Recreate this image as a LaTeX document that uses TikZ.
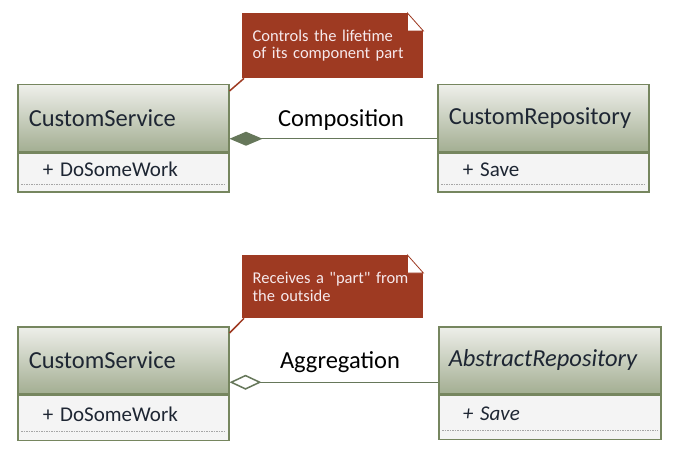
\documentclass[tikz,border=0pt]{standalone}
\usepackage{fontspec}
\setmainfont{Carlito}[Ligatures=TeXOff]
\usepackage{xcolor}
\usepackage{tikz}
\usetikzlibrary{arrows.meta}

\definecolor{headtop}{HTML}{EEEFEA}
\definecolor{headbot}{HTML}{A3AE92}
\definecolor{classline}{HTML}{76865F}
\definecolor{bodyfill}{HTML}{F4F4F4}
\definecolor{notered}{HTML}{9E3A22}
\definecolor{notetext}{HTML}{F6E9EC}
\definecolor{assocline}{HTML}{66775A}
\definecolor{nametext}{HTML}{1E2633}

\tikzset{
  classhead/.style={draw=classline, line width=1.5pt, top color=headtop, bottom color=headbot,
    anchor=north west, minimum height=67pt, inner xsep=11pt, align=left, text=nametext,
    font=\fontsize{24.5}{28}\selectfont},
  classbody/.style={draw=classline, line width=1.5pt, fill=bodyfill, anchor=north west,
    inner xsep=25pt, align=left, text height=14pt, text depth=7pt, text=nametext,
    font=\fontsize{21}{24}\selectfont},
  notebox/.style={fill=notered, anchor=north west, minimum width=181pt, minimum height=65pt,
    inner xsep=10.5pt, text width=160pt, text=notetext, align=left,
    font=\fontsize{16.5}{17.5}\selectfont},
  dotline/.style={gray!70, line width=1pt, dash pattern=on 1.5pt off 1pt},
  relabel/.style={font=\fontsize{24.5}{28}\selectfont},
}

\begin{document}
\begin{tikzpicture}[x=1pt, y=-1pt]
\useasboundingbox (0,0) rectangle (674,462);

% composition
\node[classhead, text width=189pt] (svcA) at (17,84) {CustomService};
\node[classbody, text width=161pt, minimum height=39pt] (svcAops) at (svcA.south west) {+ DoSomeWork};
\node[classhead, text width=189pt] (repoA) at (437,84) {CustomRepository};
\node[classbody, text width=161pt, minimum height=39pt] (repoAops) at (repoA.south west) {+ Save};

\draw[dotline] ([xshift=4pt,yshift=8pt]svcAops.south west) -- ([xshift=-4pt,yshift=8pt]svcAops.south east);
\draw[dotline] ([xshift=4pt,yshift=8pt]repoAops.south west) -- ([xshift=-4pt,yshift=8pt]repoAops.south east);

\node[notebox] (noteA) at (242,13) {Controls the lifetime\\of its component part};
\fill[white] ([xshift=-16pt]noteA.north east) -- (noteA.north east) -- ([yshift=-18pt]noteA.north east) -- cycle;
\draw[notered, line width=0.8pt, fill=white] ([xshift=-16pt]noteA.north east) -- ([shift={(-16pt,-18pt)}]noteA.north east) -- ([yshift=-18pt]noteA.north east) -- cycle;
\draw[notered, line width=1.5pt] ([xshift=2pt]noteA.south west) -- ([yshift=-7pt]svcA.north east);

\draw[assocline, line width=1.5pt, {Diamond[length=33pt,width=14pt]}-] ([yshift=-20.5pt]svcA.east) -- ([yshift=-20.5pt]repoA.west);
\node[relabel] (compLbl) at (341,120) {Composition};

% aggregation
\node[classhead, text width=189pt] (svcB) at (17,326) {CustomService};
\node[classbody, text width=161pt, minimum height=45pt] (svcBops) at (svcB.south west) {+ DoSomeWork};
\node[classhead, text width=202pt, inner xsep=10pt, font=\fontsize{24.5}{28}\selectfont\itshape] (repoB) at (438,326) {AbstractRepository};
\node[classbody, text width=174pt, inner xsep=24pt, minimum height=44pt, font=\fontsize{21}{24}\selectfont\itshape] (repoBops) at (repoB.south west) {+ Save};

\draw[dotline] ([xshift=4pt,yshift=10pt]svcBops.south west) -- ([xshift=-4pt,yshift=10pt]svcBops.south east);
\draw[dotline] ([xshift=4pt,yshift=10pt]repoBops.south west) -- ([xshift=-4pt,yshift=10pt]repoBops.south east);

\node[notebox, minimum height=63pt] (noteB) at (242,255) {Receives a "part" from\\the outside};
\fill[white] ([xshift=-16pt]noteB.north east) -- (noteB.north east) -- ([yshift=-18pt]noteB.north east) -- cycle;
\draw[notered, line width=0.8pt, fill=white] ([xshift=-16pt]noteB.north east) -- ([shift={(-16pt,-18pt)}]noteB.north east) -- ([yshift=-18pt]noteB.north east) -- cycle;
\draw[notered, line width=1.5pt] ([xshift=2pt]noteB.south west) -- ([yshift=-7pt]svcB.north east);

\draw[assocline, line width=1.5pt, {Diamond[fill=white,length=32pt,width=15pt]}-] ([yshift=-22pt]svcB.east) -- ([yshift=-22pt]repoB.west);
\node[relabel] (aggLbl) at (340,362) {Aggregation};
\end{tikzpicture}
\end{document}
